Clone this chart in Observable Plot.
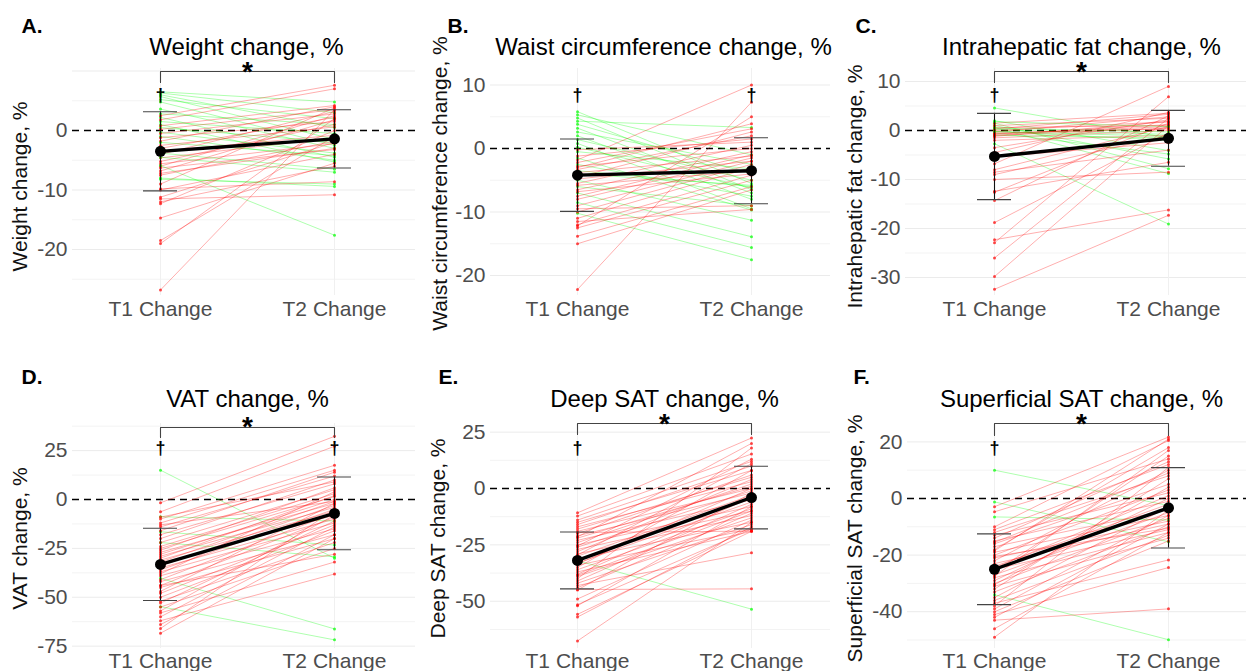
<!DOCTYPE html>
<html><head><meta charset="utf-8">
<script src="https://cdn.jsdelivr.net/npm/d3@7"></script>
<script src="https://cdn.jsdelivr.net/npm/@observablehq/plot@0.6"></script>
<style>
body{margin:0;background:#fff;font-family:"Liberation Sans",Arial,sans-serif;}
#wrap{position:relative;width:1246px;height:671px;overflow:hidden;background:#fff;}
.panel{position:absolute;}
.panel svg{background:transparent !important;overflow:visible !important;}
</style></head><body><div id="wrap"></div>
<script>
// ---------- data ----------
const timepoints = ["T1 Change", "T2 Change"];
const panelLetters = ["A.", "B.", "C.", "D.", "E.", "F."];
const titles = ["Weight change, %", "Waist circumference change, %", "Intrahepatic fat change, %",
                "VAT change, %", "Deep SAT change, %", "Superficial SAT change, %"];
const yLabels = titles;
const yTicks = [[-20,-10,0],[-20,-10,0,10],[-30,-20,-10,0,10],[-75,-50,-25,0,25],[-50,-25,0,25],[-40,-20,0,20]];

// individual participants: [T1 change, T2 change]
const weightPairs = [[6.5,4.8],[6.3,3.0],[6.0,0.5],[5.7,-1.5],[5.2,2.0],[4.8,-2.5],[3.6,-3.0],[2.8,1.0],[2.2,-4.5],[1.5,-0.5],
 [1.0,-5.3],[0.5,-2.0],[-0.3,-3.8],[-1.0,-5.0],[2.5,7.6],[1.8,7.0],[0.8,4.2],[0.2,3.5],[-0.5,2.8],[-1.2,1.5],
 [-1.8,4.0],[-2.5,0.6],[-3.0,2.2],[-3.5,-0.8],[-4.0,3.2],[-4.6,-1.2],[-5.2,1.0],[-5.6,-2.2],[-6.0,2.5],[-6.3,-3.2],
 [-5.9,-17.6],[-4.5,-7.0],[-8.0,-9.4],[-8.2,-9.0],[-3.8,-6.5],[-2.0,-4.2],[-7.2,-3.0],[-9.8,-8.6],[-11.2,-2.0],[-11.5,-10.8],
 [-12.0,-6.0],[-12.3,0.0],[-14.7,-5.5],[-18.5,-1.0],[-19.0,2.0],[-26.8,3.5],[-9.0,3.8],[-10.0,-4.0],[-6.8,1.8],[-7.5,-1.8]];
const waistPairs = [[5.8,-5.5],[5.3,-1.0],[4.8,-6.5],[4.3,3.3],[3.8,-4.0],[3.2,-7.0],[2.6,-2.5],[2.0,-8.0],[1.4,-5.0],[0.8,-9.5],
 [0.2,-6.2],[-0.5,-3.2],[-1.5,-9.7],[-2.5,-7.5],[-3.5,-6.0],[-5.0,-11.3],[-7.0,-13.9],[-8.5,-15.6],[-10.2,-17.5],[-6.0,-9.0],
 [-4.0,-5.8],[-1.8,10.0],[-22.2,7.3],[-12.2,5.0],[-3.0,3.9],[-2.2,3.1],[-4.5,2.6],[-0.2,1.0],[-5.5,0.5],[-6.5,-0.5],
 [-7.5,-1.0],[-8.0,-1.5],[-9.0,-2.0],[-10.0,-2.5],[-11.0,-3.0],[-12.0,-4.2],[-12.5,-5.0],[-13.8,-6.0],[-15.0,-6.5],[-3.8,-1.2],
 [-4.8,-2.0],[-5.8,-3.5],[-6.8,-4.0],[-2.8,0.0],[-3.3,2.0],[-9.5,-9.0],[-11.5,-9.6],[-1.2,1.5]];
const liverPairs = [[4.6,-1.5],[-2.7,-19.1],[2.0,-4.1],[1.5,-7.8],[1.0,-5.8],[0.6,-8.8],[0.2,-0.8],[-0.2,-2.0],[-0.5,-4.8],[-1.0,-1.5],
 [-32.4,-17.3],[-29.8,1.0],[-26.0,2.5],[-22.9,6.9],[-22.3,-16.2],[-18.8,-0.5],[-14.3,3.0],[-12.4,-6.5],[-12.6,1.5],[-9.0,-1.0],
 [-8.0,0.8],[-6.8,9.0],[-5.4,-2.5],[-4.5,3.7],[-3.5,2.2],[-1.0,0.5],[-0.8,1.2],[-0.5,0.3],[-0.3,2.8],[0.0,1.8],
 [0.3,3.3],[0.6,1.0],[1.0,2.5],[1.5,3.5],[-1.5,0.0],[-2.0,-1.0],[-1.2,1.8],[-8.5,-4.0],[-10.0,-8.5],[-0.7,0.8],
 [0.5,-0.3],[1.8,0.8],[-0.2,-1.2]];
const vatPairs = [[15.0,-30.0],[-40.3,-66.2],[-54.8,-71.8],[-8.8,-11.0],[-16.5,-23.3],[-22.0,-29.3],[-1.7,32.3],[-6.3,27.2],[-10,17.5],[-12,15],
 [-14,12],[-16,14],[-18,8],[-20,10],[-22,5],[-24,3],[-25,1.5],[-26,6],[-27,-2],[-28,0],
 [-29,-4],[-30,2],[-31,-6],[-32,-1],[-33,-8],[-34,-3],[-35,-10],[-36,-5],[-37,-12],[-38,4],
 [-39,-15],[-41,-7],[-42,-18],[-44,-9],[-45,-20],[-47,-2],[-48,-13],[-50,-16],[-52,-22],[-53,-11],
 [-55,-25],[-57,-8],[-58,-32],[-60,-14],[-62,-38.1],[-64,-18],[-66,-5],[-68.4,-20],[-9,9],[-13,-1],[-44,-28]];
const deepSatPairs = [[-32.0,-53.5],[-44.8,-44.5],[-67.6,-15],[-10.8,22.4],[-12.2,15.3],[-14,12],[-15,8],[-16,10],[-17,3],[-18,5],
 [-19,0],[-20,6],[-21,-2],[-22,1],[-23,-5],[-24,2],[-25,-8],[-26,-1],[-27,-10],[-28,4],
 [-29,-12],[-30,-3],[-31,-15],[-33,-6],[-34,-18],[-35,8],[-36,-9],[-37,-19],[-38,-4],[-39,-13],
 [-40,18],[-41,-7],[-42,-16],[-43,-28.5],[-44,-11],[-45,-2],[-49,-14],[-51.5,-18],[-52,-8],[-55.8,-19],
 [-57,-17],[-21.5,20],[-25.5,13],[-19.5,-18.9],[-29.5,11],[-33.5,0],[-38.5,-10]];
const supSatPairs = [[10.0,-2.5],[-1.2,-15.3],[-6.5,-7.6],[-34.0,-49.9],[-2.9,21.7],[-4.7,14],[-10,20.5],[-11,12],[-12,8],[-13,2],
 [-14,13],[-15,-1],[-16,5],[-17,-4],[-18,18],[-19,-6],[-20,3],[-21,-8],[-22,10],[-23,-9],
 [-24,-2],[-25,-11],[-26,15],[-27,-5],[-28,-12],[-29,0],[-30,-7],[-31,-14],[-32,7],[-33,-10],
 [-35,-3],[-36,-13],[-37,-21.7],[-38,11],[-39,-6],[-40,-15],[-41,-24.4],[-42,-9],[-43,-39],[-46,-12],
 [-49,-4],[-18.5,21],[-27.5,17],[-24.5,1],[-20.5,-10.5],[-30.5,4],[-15.5,9]];
const allPairs = [weightPairs, waistPairs, liverPairs, vatPairs, deepSatPairs, supSatPairs];

// group summaries (mean, SD)
const meanT1 = [-3.5, -4.2, -5.3, -33.2, -31.9, -25.0];
const sdT1   = [6.65, 5.7, 8.8, 18.5, 12.6, 12.5];
const meanT2 = [-1.4, -3.5, -1.6, -7.1, -4.0, -3.3];
const sdT2   = [4.9, 5.2, 5.7, 18.6, 13.9, 14.2];

const significant = [true, false, true, true, true, true];     // T1 vs T2 bracket "*"
const daggerAt = [[1], [1, 2], [1], [1, 2], [1], [1]];          // "†" marks

// ---------- layout (pixels) ----------
const layout = [
 {left:0,   top:0,   w:415, h:335, mL:72, mT:68, mB:40, zero:130, ppu:5.95, t1:160, ylab:[20,186], title:[246,54], letter:[21,32], bracket:71, tickEnd:82, star:72, dag:95, xpad:6},
 {left:415, top:0,   w:415, h:335, mL:75, mT:68, mB:40, zero:148, ppu:6.35, t1:162, ylab:[25,183], title:[248,54], letter:[32,32], bracket:null, dag:95, xpad:6},
 {left:830, top:0,   w:416, h:335, mL:75, mT:68, mB:40, zero:130, ppu:4.9,  t1:164, ylab:[25,186], title:[251,54], letter:[25,32], bracket:71, tickEnd:82, star:72, dag:95, xpad:6},
 {left:0,   top:335, w:415, h:336, mL:72, mT:88, mB:23, zero:164, ppu:1.955,t1:160, ylab:[20,203], title:[247,71], letter:[21,48], bracket:92, tickEnd:102, star:92, dag:113, xpad:5},
 {left:415, top:335, w:415, h:336, mL:75, mT:88, mB:23, zero:153, ppu:2.255,t1:162, ylab:[23,203], title:[249,71], letter:[23,48], bracket:88, tickEnd:99, star:89, dag:113, xpad:5},
 {left:830, top:335, w:416, h:336, mL:77, mT:88, mB:23, zero:163, ppu:2.83, t1:164, ylab:[25,203], title:[251,71], letter:[23,48], bracket:88, tickEnd:100, star:89, dag:113, xpad:5}
];
const STEP = 174;
const RED = "#ff0000", GREEN = "#00ff00";
const FONT = "Liberation Sans, Arial, Helvetica, sans-serif";

function build(i) {
  const L = layout[i];
  const vAt = px => (L.zero - px) / L.ppu;
  const xAt = px => 1 + (px - L.t1) / STEP;
  const yDomain = [vAt(L.h - L.mB), vAt(L.mT)];
  const xDomain = [xAt(L.mL), xAt(L.w)];
  const rows = allPairs[i].map(([a, b]) => ({a, b, c: b > a ? RED : GREEN}));
  const pts = rows.flatMap(r => [{x: 1, y: r.a, c: r.c}, {x: 2, y: r.b, c: r.c}]);
  const summary = [
    {x: 1, m: meanT1[i], lo: meanT1[i] - sdT1[i], hi: meanT1[i] + sdT1[i]},
    {x: 2, m: meanT2[i], lo: meanT2[i] - sdT2[i], hi: meanT2[i] + sdT2[i]}
  ];
  const ticks = yTicks[i];
  const stepT = ticks[1] - ticks[0];
  const lo = Math.min(...yDomain), hi = Math.max(...yDomain);
  const majors = d3.range(ticks[0] - 4 * stepT, ticks[ticks.length - 1] + 4 * stepT + 1e-9, stepT).filter(v => v >= lo && v <= hi - 1.5 / L.ppu && v !== 0);
  const minors = d3.range(ticks[0] - 4.5 * stepT, ticks[ticks.length - 1] + 4.5 * stepT, stepT).filter(v => v >= lo && v <= hi);
  const capW = 17 / STEP;

  const marks = [
    Plot.ruleY(minors, {stroke: "#f3f3f3", strokeWidth: 1}),
    Plot.ruleY(majors, {stroke: "#ebebeb", strokeWidth: 1}),
    Plot.ruleX([1, 2], {stroke: "#f0f0f0", strokeWidth: 1}),
    Plot.ruleY([0], {stroke: "black", strokeWidth: 1.4, strokeDasharray: "7,5"}),
    Plot.link(rows, {x1: () => 1, x2: () => 2, y1: "a", y2: "b", stroke: "c", strokeOpacity: 0.4, strokeWidth: 0.8}),
    Plot.dot(pts, {x: "x", y: "y", fill: "c", r: 1.5, fillOpacity: 0.7, stroke: null}),
    Plot.ruleX(summary, {x: "x", y1: "lo", y2: "hi", stroke: "#111", strokeWidth: 1.1}),
    Plot.ruleY(summary, {y: "lo", x1: d => d.x - capW, x2: d => d.x + capW, stroke: "#444", strokeWidth: 1.1}),
    Plot.ruleY(summary, {y: "hi", x1: d => d.x - capW, x2: d => d.x + capW, stroke: "#444", strokeWidth: 1.1}),
    Plot.line(summary, {x: "x", y: "m", stroke: "black", strokeWidth: 3.4}),
    Plot.dot(summary, {x: "x", y: "m", r: 5.5, fill: "black"}),
    Plot.axisY({ticks, tickSize: 0, tickPadding: 5, tickFormat: d => String(d), fontSize: 21, color: "#4d4d4d", label: null}),
    Plot.axisX({ticks: [1, 2], tickSize: 0, tickPadding: L.xpad, tickFormat: d => timepoints[d - 1], fontSize: 21, color: "#4d4d4d", label: null}),
    Plot.text([yLabels[i]], {frameAnchor: "top-left", dx: L.ylab[0] - L.mL, dy: L.ylab[1] - L.mT, rotate: -90, fontSize: 21, fill: "#111", textAnchor: "middle", lineAnchor: "middle"}),
    Plot.text([titles[i]], {frameAnchor: "top-left", dx: L.title[0] - L.mL, dy: L.title[1] - L.mT, fontSize: 24, fill: "black", textAnchor: "middle", lineAnchor: "bottom"}),
    Plot.text([panelLetters[i]], {frameAnchor: "top-left", dx: L.letter[0] - L.mL, dy: L.letter[1] - L.mT, fontSize: 21, fontWeight: "bold", fill: "black", textAnchor: "start", lineAnchor: "bottom"}),
    Plot.text(daggerAt[i], {x: d => d, y: () => vAt(L.dag), text: () => "\u2020", fontSize: 18, fontWeight: "bold", fill: "black", lineAnchor: "middle"})
  ];
  if (significant[i]) {
    const yb = vAt(L.bracket), yt = vAt(L.tickEnd);
    marks.push(Plot.line([[1, yt], [1, yb], [2, yb], [2, yt]], {stroke: "#444", strokeWidth: 1.1}));
    marks.push(Plot.text(["*"], {x: () => 1.5, y: () => vAt(L.star), fontSize: 28, fontWeight: "bold", fill: "black", lineAnchor: "middle"}));
  }
  const chart = Plot.plot({
    width: L.w, height: L.h,
    marginLeft: L.mL, marginRight: 0, marginTop: L.mT, marginBottom: L.mB,
    x: {domain: xDomain},
    y: {domain: yDomain},
    color: {type: "identity"},
    style: {fontFamily: FONT, background: "transparent", overflow: "visible"},
    marks
  });
  const div = document.createElement("div");
  div.className = "panel";
  div.style.left = L.left + "px";
  div.style.top = L.top + "px";
  div.appendChild(chart);
  document.getElementById("wrap").appendChild(div);
}
for (let i = 0; i < 6; i++) build(i);
</script></body></html>
